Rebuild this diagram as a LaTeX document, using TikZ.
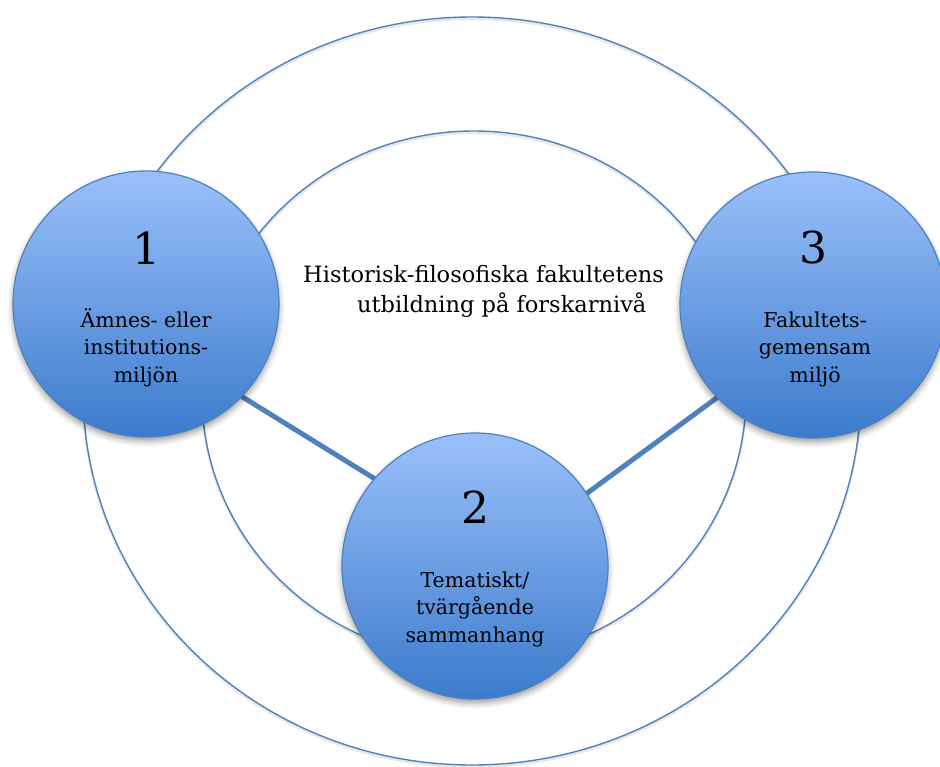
\documentclass[tikz,border=0pt]{standalone}
\usepackage{fontspec}
\setmainfont{DejaVu Serif}
\usetikzlibrary{shadows.blur}
\definecolor{ringblue}{RGB}{79,129,189}
\definecolor{topblue}{RGB}{154,192,250}
\definecolor{botblue}{RGB}{60,123,204}
\begin{document}
\begin{tikzpicture}[x=1pt,y=-1pt,
  ring/.style={draw=ringblue, line width=1.4pt},
  ringshadow/.style={draw=black!20, line width=2.4pt, opacity=0.45},
  link/.style={draw=ringblue, line width=5pt},
  bubble/.style={circle, minimum size=266pt, inner sep=0pt, draw=ringblue, line width=1.2pt,
    top color=topblue, bottom color=botblue,
    blur shadow={shadow xshift=0pt, shadow yshift=-4pt, shadow blur radius=6pt, shadow opacity=40}},
  numtext/.style={font=\fontsize{44}{44}\selectfont, anchor=base, inner sep=0pt},
  captext/.style={font=\fontsize{20.5}{27.5}\selectfont, align=center, anchor=base, inner sep=0pt},
  titletext/.style={font=\fontsize{22.5}{30}\selectfont, align=left, anchor=base west, inner sep=0pt}]
\useasboundingbox (0,0) rectangle (940,766);
% rings
\draw[ringshadow] (472,393) ellipse [x radius=389, y radius=374];
\draw[ring] (472,391) ellipse [x radius=389, y radius=374];
\draw[ringshadow] (474,397) ellipse [x radius=272, y radius=264];
\draw[ring] (474,395) ellipse [x radius=272, y radius=264];
\path (146,304) coordinate (p1) (475,566) coordinate (p2) (813,305) coordinate (p3);
\node[circle, minimum size=266pt, inner sep=0pt] (g1) at (p1) {};
\node[circle, minimum size=266pt, inner sep=0pt] (g2) at (p2) {};
\node[circle, minimum size=266pt, inner sep=0pt] (g3) at (p3) {};
\draw[link] (g1.-44) -- (g2.139.5);
\draw[link] (g2.33.5) -- (g3.224.4);
\node[bubble] (c1) at (p1) {};
\node[bubble] (c2) at (p2) {};
\node[bubble] (c3) at (p3) {};
% texts
\node[numtext] (n1) at (146,264) {1};
\node[captext] (t1) at (146,382) {Ämnes- eller\\institutions-\\miljön};
\node[numtext] (n2) at (475,523) {2};
\node[captext] (t2) at (475,642) {Tematiskt/\\tvärgående\\sammanhang};
\node[numtext] (n3) at (813,263) {3};
\node[captext] (t3) at (815,382) {Fakultets-\\gemensam\\miljö};
\node[titletext] (title) at (303,312) {Historisk-filosofiska fakultetens\\\hspace*{54pt}utbildning på forskarnivå};
\end{tikzpicture}
\end{document}
